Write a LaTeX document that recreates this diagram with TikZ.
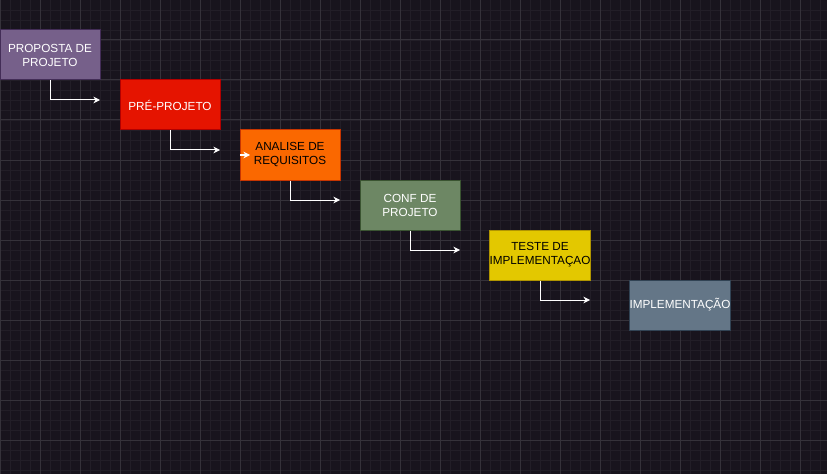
\documentclass[tikz,border=0pt]{standalone}
\usepackage{fontspec}
\setmainfont{Liberation Sans}
\usetikzlibrary{arrows.meta}

\definecolor{fundo}{HTML}{18141D}
\definecolor{gradefina}{HTML}{221E27}
\definecolor{gradegrossa}{HTML}{35323A}
\definecolor{roxo}{HTML}{76608A}
\definecolor{roxoborda}{HTML}{432D57}
\definecolor{vermelho}{HTML}{E51400}
\definecolor{vermelhoborda}{HTML}{B20000}
\definecolor{laranja}{HTML}{FA6800}
\definecolor{laranjaborda}{HTML}{C73500}
\definecolor{verde}{HTML}{6D8764}
\definecolor{verdeborda}{HTML}{3A5431}
\definecolor{amarelo}{HTML}{E3C800}
\definecolor{amareloborda}{HTML}{B09500}
\definecolor{cinza}{HTML}{647687}
\definecolor{cinzaborda}{HTML}{314354}

\begin{document}
\begin{tikzpicture}[x=0.75pt, y=-0.75pt,
    etapa/.style={draw, line width=0.75pt, minimum width=75pt, minimum height=37.5pt,
        inner sep=0pt, align=center, font=\fontsize{8.8}{10.5}\selectfont},
    fluxo/.style={white, line width=0.75pt, -{Stealth[length=5pt, width=5pt]}}]

    % Background
    \fill[fundo] (0,0) rectangle (827,474);
    \useasboundingbox (0,0) rectangle (827,474);

    % Draw grid
    \foreach \x in {10,20,...,820} \draw[gradefina, line width=0.6pt] (\x,0) -- (\x,474);
    \foreach \y in {10,20,...,470} \draw[gradefina, line width=0.6pt] (0,\y) -- (827,\y);
    \foreach \x in {0,40,...,800} \draw[gradegrossa, line width=0.75pt] (\x,0) -- (\x,474);
    \foreach \y in {0,40,...,440} \draw[gradegrossa, line width=0.75pt] (0,\y) -- (827,\y);

    % Stages
    \node[etapa, fill=roxo, draw=roxoborda, text=white] (proposta) at (50,55) {PROPOSTA DE\\PROJETO};
    \node[etapa, fill=vermelho, draw=vermelhoborda, text=white] (preprojeto) at (170,105) {PRÉ-PROJETO};
    \node[etapa, fill=laranja, draw=laranjaborda, text=black] (analise) at (290,155) {ANALISE DE\\REQUISITOS};
    \node[etapa, fill=verde, draw=verdeborda, text=white] (conf) at (410,205) {CONF DE\\PROJETO};
    \node[etapa, fill=amarelo, draw=amareloborda, text=black] (teste) at (540,255) {TESTE DE\\IMPLEMENTAÇAO};
    \node[etapa, fill=cinza, draw=cinzaborda, text=white] (implementacao) at (680,305) {IMPLEMENTAÇÃO};

    % Arrow ends
    \coordinate (fim1) at (100,100);
    \coordinate (fim2) at (220,150);
    \coordinate (fim3) at (340,200);
    \coordinate (fim4) at (460,250);
    \coordinate (fim5) at (590,300);
    \coordinate (toco0) at (240,155);
    \coordinate (toco1) at (250,155);

    % Draw arrows
    \draw[fluxo] (proposta.south) |- (fim1);
    \draw[fluxo] (preprojeto.south) |- (fim2);
    \draw[fluxo] (analise.south) |- (fim3);
    \draw[fluxo] (conf.south) |- (fim4);
    \draw[fluxo] (teste.south) |- (fim5);
    \draw[fluxo] (toco0) -- (toco1);

\end{tikzpicture}
\end{document}
